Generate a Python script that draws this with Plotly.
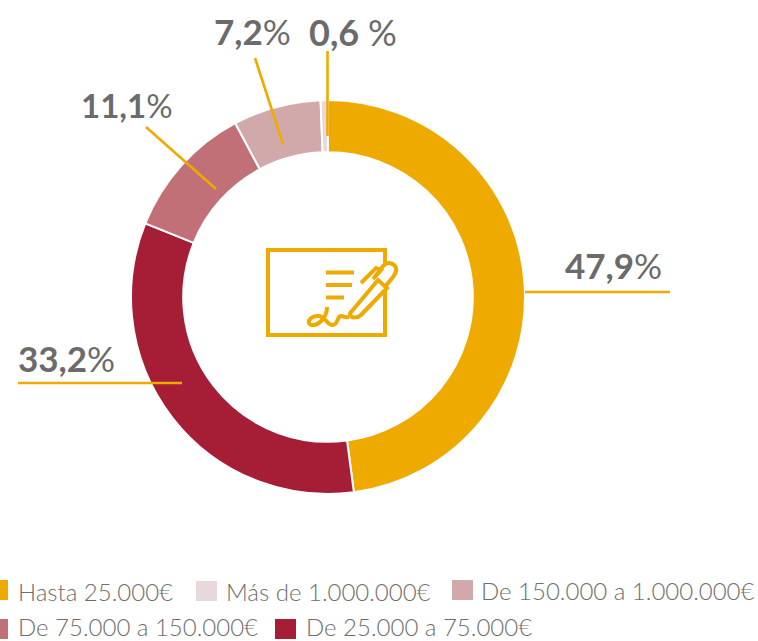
import plotly.graph_objects as go

W, H = 758, 641
categories = ["Hasta 25.000€", "De 25.000 a 75.000€", "De 75.000 a 150.000€", "De 150.000 a 1.000.000€", "Más de 1.000.000€"]
values = [47.9, 33.2, 11.1, 7.2, 0.6]
colors = ["#EFAA00", "#A51E36", "#C27077", "#D2A9AB", "#E9D8DB"]
value_labels = ["47,9", "33,2", "11,1", "7,2", "0,6 "]

GOLD = "#EFAA00"
GRAY = "#6B6B6B"
TEXT = "#6E6E6E"
FONT = "Lato"


def px(x):
    return x / W


def py(y):
    return 1 - y / H


fig = go.Figure(go.Pie(
    labels=categories, values=values, hole=0.735, sort=False, direction="clockwise", rotation=0,
    marker=dict(colors=colors, line=dict(color="white", width=2)),
    textinfo="none", hoverinfo="label+percent", showlegend=False,
    domain=dict(x=[px(131), px(525)], y=[py(494), py(100)]),
))

shapes = []


def line(x0, y0, x1, y1, w=2.6):
    shapes.append(dict(type="line", xref="paper", yref="paper", x0=px(x0), y0=py(y0), x1=px(x1), y1=py(y1),
                       line=dict(color=GOLD, width=w)))


def path(points, w=4, close=False):
    d = ""
    for cmd, *xy in points:
        d += cmd + " ".join(f"{px(xy[i]):.5f},{py(xy[i + 1]):.5f}" for i in range(0, len(xy), 2)) + " "
    if close:
        d += "Z"
    shapes.append(dict(type="path", xref="paper", yref="paper", path=d,
                       line=dict(color=GOLD, width=w), layer="above"))


# leader lines
line(525, 292, 670, 292)
line(18, 383, 182, 383)
line(146, 127, 216, 189)
line(255, 58, 283, 144)
line(327.5, 51, 327.5, 136)

# icon: document frame
path([("M", 385, 263), ("L", 385, 250), ("L", 268, 250), ("L", 268, 335), ("L", 385, 335), ("L", 385, 291)])
# text lines
line(326, 272.5, 354, 272.5, 4)
line(326, 285, 352, 285, 4)
line(326, 297.5, 344, 297.5, 4)
# signature
path([("M", 327, 307), ("C", 327, 318, 318, 326, 311, 325), ("C", 306, 323, 310, 316, 318, 316),
      ("C", 326, 316, 326, 325, 333, 325), ("C", 338, 325, 337, 316, 341, 316),
      ("C", 344, 316, 343, 318, 349, 317)], w=4)
# pen
path([("M", 352, 311), ("L", 378, 280), ("L", 387, 288), ("L", 361, 315), ("C", 358, 318, 352, 318, 351, 316),
      ("C", 349, 314, 350, 313, 352, 311)], w=4)
path([("M", 375, 277), ("L", 383, 266), ("C", 388, 261, 394, 263, 396, 268), ("C", 397, 272, 395, 274, 393, 277),
      ("L", 384, 288)], w=4)
path([("M", 361, 283), ("L", 376, 268), ("L", 381, 270), ("L", 373, 279)], w=4)

annotations = []


def pct(x, y, txt, size=35):
    annotations.append(dict(xref="paper", yref="paper", x=px(x), y=py(y), xanchor="center", yanchor="middle",
                            showarrow=False, text=f"<b>{txt}</b>%",
                            font=dict(family=FONT, size=size, color=GRAY)))


pct(613, 265, value_labels[0])
pct(66, 358, value_labels[1])
pct(127, 105, value_labels[2], 33)
pct(252, 31, value_labels[3])
pct(353, 32, value_labels[4], 36)


def legend(sx0, sx1, y, idx, tx, ty):
    shapes.append(dict(type="rect", xref="paper", yref="paper", x0=px(sx0), x1=px(sx1), y0=py(y - 10), y1=py(y + 10),
                       fillcolor=colors[idx], line=dict(width=0)))
    annotations.append(dict(xref="paper", yref="paper", x=px(tx), y=py(ty), xanchor="left", yanchor="middle",
                            showarrow=False, text=categories[idx],
                            font=dict(family=FONT, size=24, color=TEXT, weight=300)))


legend(0, 8, 590, 0, 16, 591)
legend(196, 217, 591, 4, 224, 591)
legend(452, 473, 590, 3, 479, 590)
legend(0, 8, 629, 2, 16, 626.5)
legend(275, 296, 629, 1, 304, 626.5)

fig.update_layout(
    width=W, height=H, autosize=False,
    margin=dict(l=0, r=0, t=0, b=0),
    paper_bgcolor="white", plot_bgcolor="white",
    showlegend=False, shapes=shapes, annotations=annotations,
)
fig.write_html("out.html", config=dict(displayModeBar=False),
               post_script="document.body.style.margin='0';document.body.style.overflow='hidden';")
